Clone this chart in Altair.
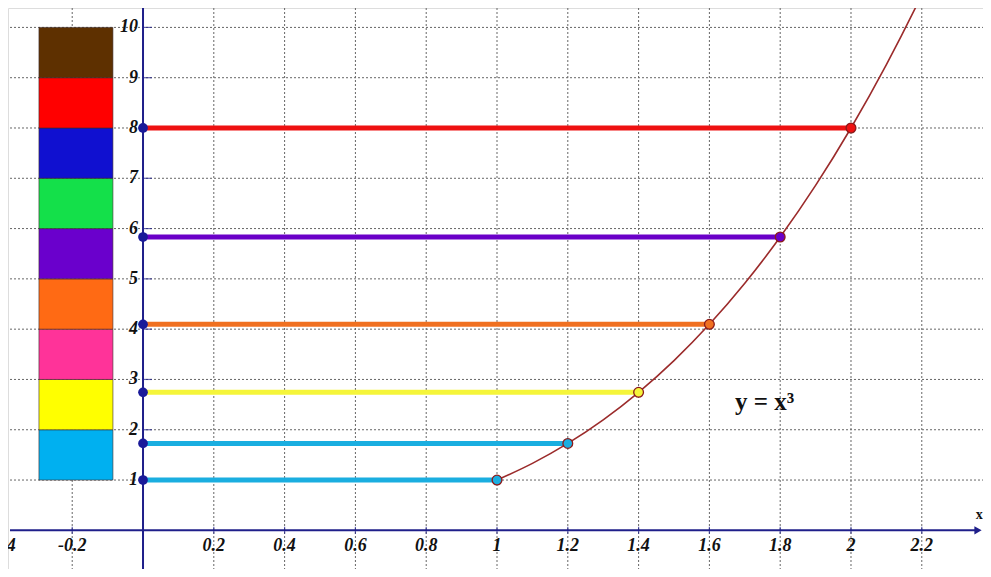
import altair as alt
import pandas as pd

# ---- data ----
x_ticks = [-0.4, -0.2, 0.2, 0.4, 0.6, 0.8, 1.0, 1.2, 1.4, 1.6, 1.8, 2.0, 2.2]
x_tick_labels = ["-0.4", "-0.2", "0.2", "0.4", "0.6", "0.8", "1", "1.2", "1.4", "1.6", "1.8", "2", "2.2"]
y_ticks = [1, 2, 3, 4, 5, 6, 7, 8, 9, 10]
y_tick_labels = ["1", "2", "3", "4", "5", "6", "7", "8", "9", "10"]

bar_lo = [1, 2, 3, 4, 5, 6, 7, 8, 9]
bar_hi = [2, 3, 4, 5, 6, 7, 8, 9, 10]
bar_colors = ["#00B0F0", "#FFFF00", "#FF3399", "#FF6A14", "#6A00CC",
              "#14E04A", "#1010D0", "#FF0000", "#5E3000"]
bar_x0 = -0.294
bar_x1 = -0.085

seg_x = [1.0, 1.2, 1.4, 1.6, 1.8, 2.0]
seg_y = [1.0, 1.728, 2.744, 4.096, 5.832, 8.0]
seg_colors = ["#1AAEE0", "#1AAEE0", "#F5F53A", "#F07020", "#6A00C8", "#EE1111"]

curve_x = [1.0, 1.1, 1.2, 1.3, 1.4, 1.5, 1.6, 1.7, 1.8, 1.9, 2.0, 2.1, 2.2, 2.3]
curve_y = [1.0, 1.331, 1.728, 2.197, 2.744, 3.375, 4.096, 4.913, 5.832,
           6.859, 8.0, 9.261, 10.648, 12.167]

# ---- layout ----
W, H = 975, 561
XMIN, XMAX = -0.3814, 2.3729
YMIN, YMAX = -0.769, 10.386
AXIS_COLOR = "#1F1F8A"
GRID_COLOR = "#666666"
FONT = "Liberation Serif"

xs = alt.Scale(domain=[XMIN, XMAX], nice=False, zero=False)
ys = alt.Scale(domain=[YMIN, YMAX], nice=False, zero=False)

def X(f):
    return alt.X(f, type="quantitative", scale=xs, axis=None)

def Y(f):
    return alt.Y(f, type="quantitative", scale=ys, axis=None)

grid_x = [v for v in x_ticks if v != -0.4]
gv = alt.Chart(pd.DataFrame({"x": grid_x})).mark_rule(
    color=GRID_COLOR, strokeDash=[2, 2], strokeWidth=1
).encode(x=X("x"), y=alt.value(0), y2=alt.value(H))

gh = alt.Chart(pd.DataFrame({"y": y_ticks})).mark_rule(
    color=GRID_COLOR, strokeDash=[2, 2], strokeWidth=1
).encode(y=Y("y"), x=alt.value(2), x2=alt.value(W))

bars_df = pd.DataFrame({"x0": [bar_x0] * len(bar_lo), "x1": [bar_x1] * len(bar_lo),
                        "lo": bar_lo, "hi": bar_hi, "c": bar_colors})
bars = alt.Chart(bars_df).mark_rect(stroke="#3a2a2a", strokeWidth=0.6).encode(
    x=X("x0"), x2="x1", y=Y("lo"), y2="hi",
    color=alt.Color("c:N", scale=None)
)

axis_df = pd.DataFrame({"x": [0.0], "y": [0.0]})
yaxis = alt.Chart(axis_df).mark_rule(color=AXIS_COLOR, strokeWidth=2).encode(
    x=X("x"), y=alt.value(0), y2=alt.value(H))
xaxis = alt.Chart(axis_df).mark_rule(color=AXIS_COLOR, strokeWidth=2).encode(
    y=Y("y"), x=alt.value(2), x2=alt.value(W - 4))
arrow = alt.Chart(axis_df).mark_point(
    shape="triangle-right", filled=True, color=AXIS_COLOR, size=70, opacity=1
).encode(y=Y("y"), x=alt.value(W - 5))

xt_df = pd.DataFrame({"x": grid_x, "y": [0.0] * len(grid_x)})
xticks = alt.Chart(xt_df).mark_tick(
    orient="vertical", color=AXIS_COLOR, size=7, thickness=1.2
).encode(x=X("x"), y=Y("y"))
yt_df = pd.DataFrame({"x": [0.0] * len(y_ticks), "y": y_ticks})
yticks = alt.Chart(yt_df).mark_tick(
    orient="horizontal", color=AXIS_COLOR, size=10, thickness=1.2, xOffset=4
).encode(x=X("x"), y=Y("y"))

segs_df = pd.DataFrame({"x0": [0.0] * len(seg_x), "x1": seg_x, "y": seg_y, "c": seg_colors})
segs = alt.Chart(segs_df).mark_rule(strokeWidth=5).encode(
    x=X("x0"), x2="x1", y=Y("y"), color=alt.Color("c:N", scale=None))

curve = alt.Chart(pd.DataFrame({"x": curve_x, "y": curve_y})).mark_line(
    color="#9B2B2B", strokeWidth=1.6, interpolate="monotone", clip=True
).encode(x=X("x"), y=Y("y"))

left_pts = alt.Chart(segs_df).mark_point(
    filled=True, color="#1A1A99", size=95, opacity=1
).encode(x=X("x0"), y=Y("y"))
right_pts = alt.Chart(segs_df).mark_point(
    filled=True, size=95, opacity=1, stroke="#8B1A1A", strokeWidth=1.3
).encode(x=X("x1"), y=Y("y"), fill=alt.Fill("c:N", scale=None))

xl_df = pd.DataFrame({"x": x_ticks, "y": [0.0] * len(x_ticks), "t": x_tick_labels})
xlabels = alt.Chart(xl_df).mark_text(
    font=FONT, fontSize=18, fontStyle="italic", fontWeight="bold",
    color="#111111", baseline="middle", align="center", dy=16
).encode(x=X("x"), y=Y("y"), text="t:N")

yl_df = pd.DataFrame({"x": [0.0] * len(y_ticks), "y": y_ticks, "t": y_tick_labels})
ylabels = alt.Chart(yl_df).mark_text(
    font=FONT, fontSize=18, fontStyle="italic", fontWeight="bold",
    color="#111111", baseline="middle", align="right", dx=-5
).encode(x=X("x"), y=Y("y"), text="t:N")

eq = alt.Chart(pd.DataFrame({"x": [1.672], "y": [2.55], "t": ["y = x³"]})).mark_text(
    font=FONT, fontSize=25, fontWeight="bold", color="#111111",
    align="left", baseline="middle"
).encode(x=X("x"), y=Y("y"), text="t:N")

xname = alt.Chart(pd.DataFrame({"x": [2.362], "y": [0.3], "t": ["x"]})).mark_text(
    font=FONT, fontSize=14, fontWeight="bold", color="#111111",
    align="center", baseline="middle"
).encode(x=X("x"), y=Y("y"), text="t:N")

chart = alt.layer(
    gv, gh, bars, yaxis, xaxis, arrow, xticks, yticks, segs, curve,
    left_pts, right_pts, xlabels, ylabels, eq, xname
).properties(
    width=W, height=H, padding=0,
    autosize=alt.AutoSizeParams(type="none")
).configure_view(stroke=None).configure(background="white")

chart.save("out.html", embed_options={"renderer": "svg", "actions": False})
